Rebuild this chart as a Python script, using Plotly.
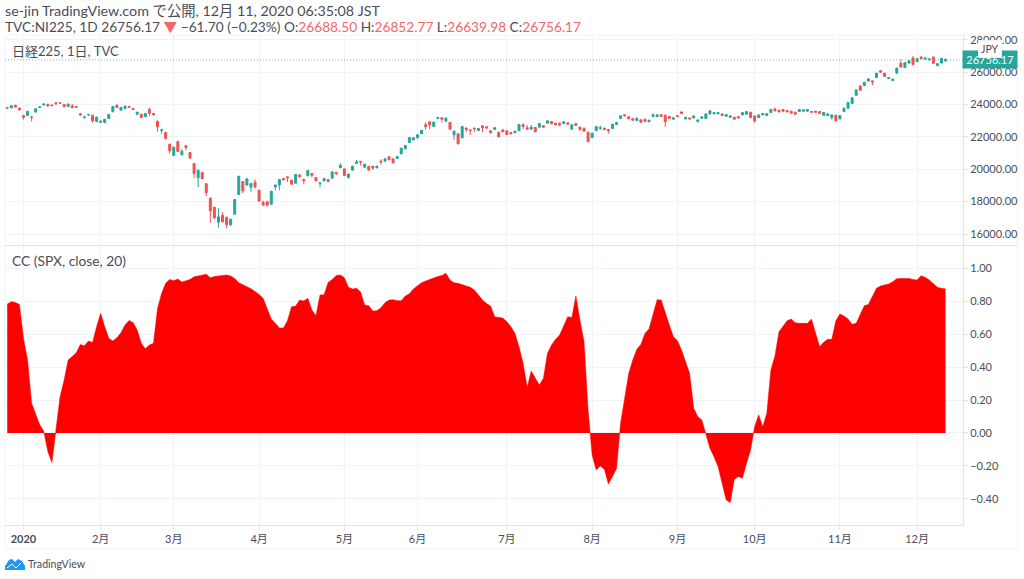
import plotly.graph_objects as go

# Nikkei 225 daily bars, Dec 2019 to Dec 2020
open_px = [23813, 23787, 23953, 23770,
    23320, 23320, 23217, 23530, 23813, 23970, 24000, 23967, 24107, 24100, 24000, 23870, 23910, 23870, 23430, 23190, 23360, 23340, 22950,
    22900, 22880, 23130, 23550, 23960, 23650, 23750, 23880, 23750, 23400, 23400, 23240, 23690, 23440, 22970, 22400, 22270, 21550,
    20850, 21710, 20890, 21450, 21030, 20350, 19470, 19800, 19100, 18210, 17650, 16730, 17160, 17030, 16570, 17220, 18440, 19240, 19020, 18890, 19200,
    18700, 17960, 18000, 17840, 18910, 19030, 19430, 19530, 19320, 19140, 19650, 19360, 19590, 19740, 19490, 19130, 19280, 19360, 19450, 19810, 20090,
    20020, 19490, 19940, 20357, 20480, 20125, 20170, 20190, 20090, 20500, 20500, 20770, 20640, 20660, 20950, 21260, 21650, 21820,
    21940, 22190, 22740, 22930, 22640, 23130, 23180, 22970, 22890, 22125, 22190, 21940, 22540, 22430, 22540, 22390, 22680, 22620, 22370, 22460, 22290, 22430,
    22373, 22270, 22249, 22373, 22743, 22558, 22476, 22579, 22600, 22682, 22846, 22950, 22846, 22846, 22826, 22867, 22476, 22826, 22600, 22537, 22290,
    21960, 22393, 22520, 22537, 22455, 22517, 22764, 23135, 23361, 23238, 23114, 23011, 23052, 23093, 22929, 23258, 23258, 23361, 23320, 23258, 23093,
    23300, 23540, 23106, 23168, 23168, 22960, 23147, 23126, 23418, 23418, 23418, 23418, 23272, 23210, 23210, 23250, 23355, 23397, 23522,
    23293, 23189, 23355, 23314, 23500, 23730, 23646, 23688, 23626, 23584, 23522, 23563, 23584, 23584, 23563, 23584, 23563, 23334, 23314, 23189, 23334,
    23106, 23563, 23771, 24062, 24562, 25144, 25165, 25456, 25456, 25664, 26080, 25934, 25602, 25477, 25934, 26538, 26288, 26558, 26870,
    26642, 26933, 26808, 26746, 26933, 26413, 26558, 26688.50]
high_px = [23830, 23930, 23967, 23807,
    23365, 23577, 23303, 23767, 23903, 24060, 24060, 24000, 24115, 24120, 24030, 24040, 24040, 23900, 23470, 23320, 23400, 23350, 23260,
    23000, 23100, 23400, 23880, 23990, 23830, 23900, 23900, 23780, 23540, 23420, 23450, 23800, 23480, 22990, 22500, 22320, 21560,
    21400, 21760, 21250, 21500, 21060, 20370, 19970, 19850, 19150, 18260, 17680, 17600, 17360, 17080, 16950, 18150, 19580, 19280, 19420, 19130, 19370,
    18730, 18060, 18050, 18660, 19070, 19390, 19450, 19540, 19340, 19690, 19680, 19420, 19930, 19780, 19510, 19200, 19450, 19380, 19860, 19840, 20370,
    20040, 19720, 20200, 20570, 20520, 20330, 20190, 20210, 20210, 20620, 20660, 20800, 20660, 20810, 21320, 21490, 21970, 21990,
    22160, 22420, 22900, 22960, 22930, 23220, 23200, 23190, 22900, 22380, 22210, 22660, 22580, 22450, 22570, 22530, 22710, 22660, 22400, 22600, 22310, 22500,
    22400, 22300, 22370, 22790, 22846, 22742, 22722, 22600, 22840, 22720, 23000, 22970, 22870, 22870, 22950, 22890, 22760, 22850, 22620, 22560, 22310,
    22250, 22660, 22700, 22560, 22480, 22800, 22900, 23320, 23400, 23270, 23140, 23170, 23080, 23110, 23050, 23464, 23380, 23390, 23400, 23290, 23190,
    23320, 23560, 23230, 23190, 23310, 23060, 23250, 23440, 23630, 23520, 23520, 23440, 23400, 23310, 23230, 23270, 23520, 23580, 23540,
    23320, 23380, 23460, 23460, 23710, 23760, 23670, 23710, 23650, 23610, 23540, 23710, 23690, 23710, 23590, 23610, 23590, 23520, 23440, 23380, 23360,
    23330, 23790, 24140, 24440, 24920, 25170, 25400, 25600, 25480, 25950, 26120, 25960, 25690, 25600, 26270, 26766, 26600, 26730, 27000,
    26850, 26960, 26890, 26830, 26960, 26560, 26870, 26852.77]
low_px = [23746, 23783, 23837, 23651,
    23073, 23300, 22951, 23520, 23780, 23950, 23850, 23880, 24000, 24060, 23850, 23860, 23780, 23790, 23320, 23115, 23280, 22890, 22900,
    22850, 22860, 23100, 23520, 23790, 23630, 23730, 23790, 23670, 23330, 23150, 23220, 23300, 23300, 22330, 22180, 21850, 20970,
    20830, 21080, 20850, 21170, 20630, 19470, 18900, 19380, 18330, 16690, 16900, 16400, 16740, 16360, 16490, 17210, 18430, 18500, 19010, 18610, 18800,
    18000, 17720, 17700, 17830, 18700, 18700, 19300, 19220, 19050, 19130, 19500, 19070, 19580, 19500, 19260, 18880, 19270, 19180, 19440, 19620, 20080,
    19590, 19420, 19920, 20340, 20230, 20100, 19890, 19950, 20050, 20300, 20480, 20560, 20370, 20640, 20930, 21230, 21620, 21780,
    21900, 22180, 22440, 22480, 22620, 23110, 22880, 22950, 22440, 21820, 21530, 21910, 22290, 22130, 22290, 22370, 22270, 22470, 22220, 22430, 21980, 22300,
    22120, 22160, 22230, 22360, 22475, 22450, 22450, 22290, 22580, 22580, 22830, 22780, 22720, 22640, 22810, 22760, 22440, 22680, 22410, 22330, 21650,
    21940, 22380, 22420, 22400, 22210, 22500, 22750, 23110, 23280, 23090, 23010, 22990, 22880, 22930, 22910, 23240, 23240, 23230, 22620, 23110, 23070,
    23240, 23420, 23090, 23090, 23150, 22880, 23130, 23110, 23400, 23400, 23400, 23290, 23250, 23190, 23060, 23150, 23340, 23380, 23170,
    22870, 23170, 23340, 23300, 23480, 23590, 23520, 23560, 23520, 23440, 23380, 23540, 23560, 23560, 23500, 23500, 23440, 23310, 23290, 23060, 22950,
    23090, 23540, 23750, 24040, 24540, 24850, 25140, 25430, 25206, 25640, 25970, 25700, 25580, 25450, 25910, 26280, 26260, 26530, 26430,
    26620, 26800, 26790, 26720, 26500, 26350, 26540, 26639.98]
close_px = [23782, 23924, 23837, 23656,
    23204, 23575, 23204, 23739, 23850, 24025, 23916, 23933, 24041, 24083, 23864, 24031, 23795, 23827, 23343, 23215, 23379, 22977, 23205,
    22972, 23084, 23380, 23873, 23810, 23815, 23900, 23830, 23690, 23525, 23195, 23445, 23450, 23380, 22620, 22426, 21900, 21140,
    21360, 21100, 21110, 21340, 20700, 19730, 19940, 19420, 18560, 17430, 17010, 17060, 16750, 16580, 16910, 18130, 19570, 18660, 19410, 19120, 18910,
    18030, 17800, 17780, 18640, 19020, 19360, 19345, 19470, 19080, 19670, 19530, 19300, 19920, 19630, 19280, 19160, 19430, 19240, 19840, 19730, 20230,
    19610, 19700, 20190, 20460, 20440, 20310, 19960, 20070, 20190, 20440, 20640, 20580, 20400, 20790, 21300, 21470, 21960, 21940,
    22125, 22400, 22640, 22740, 22910, 23200, 23090, 23155, 22470, 22350, 21570, 22640, 22455, 22390, 22500, 22520, 22560, 22560, 22250, 22560, 22000, 22310,
    22146, 22187, 22352, 22764, 22640, 22476, 22600, 22311, 22826, 22600, 22990, 22805, 22743, 22743, 22929, 22785, 22743, 22702, 22434, 22352, 21713,
    22228, 22640, 22560, 22455, 22373, 22785, 22888, 23300, 23300, 23114, 23032, 23155, 22908, 22949, 23032, 23361, 23361, 23258, 22929, 23135, 23176,
    23260, 23440, 23210, 23106, 23293, 23043, 23230, 23418, 23605, 23500, 23500, 23314, 23376, 23293, 23085, 23168, 23500, 23563, 23189,
    22981, 23355, 23438, 23438, 23688, 23605, 23542, 23584, 23542, 23459, 23397, 23688, 23667, 23688, 23522, 23522, 23459, 23500, 23418, 23355, 22981,
    23314, 23771, 24125, 24416, 24894, 24874, 25373, 25581, 25394, 25934, 25997, 25726, 25664, 25560, 26246, 26309, 26579, 26704, 26454,
    26829, 26829, 26870, 26808, 26538, 26517, 26850, 26756.17]

# CC (SPX, close, 20), one value per bar
cc = [0.783, 0.798, 0.793, 0.781,
    0.575, 0.443, 0.18, 0.11, 0.05, 0.01, -0.113, -0.18, 0.04, 0.22, 0.32, 0.443, 0.464, 0.488, 0.538, 0.53, 0.559, 0.55, 0.646,
    0.727, 0.646, 0.575, 0.559, 0.579, 0.609, 0.656, 0.684, 0.67, 0.626, 0.545, 0.512, 0.534, 0.545, 0.757, 0.848, 0.909, 0.933,
    0.925, 0.935, 0.917, 0.925, 0.933, 0.949, 0.953, 0.96, 0.964, 0.943, 0.951, 0.953, 0.957, 0.96, 0.953, 0.939, 0.913, 0.901, 0.889, 0.877, 0.86,
    0.842, 0.818, 0.757, 0.692, 0.666, 0.638, 0.638, 0.682, 0.767, 0.771, 0.808, 0.802, 0.818, 0.747, 0.713, 0.838, 0.84, 0.915, 0.933, 0.957, 0.96,
    0.943, 0.885, 0.875, 0.879, 0.856, 0.777, 0.773, 0.741, 0.743, 0.761, 0.791, 0.808, 0.81, 0.804, 0.804, 0.832, 0.846, 0.875,
    0.893, 0.913, 0.923, 0.933, 0.943, 0.951, 0.957, 0.97, 0.929, 0.913, 0.909, 0.901, 0.897, 0.885, 0.868, 0.838, 0.808, 0.787, 0.771, 0.706, 0.704, 0.698,
    0.676, 0.646, 0.605, 0.524, 0.423, 0.277, 0.377, 0.336, 0.291, 0.332, 0.484, 0.534, 0.569, 0.595, 0.65, 0.706, 0.702, 0.832, 0.686, 0.555, 0.14,
    -0.134, -0.225, -0.2, -0.22, -0.31, -0.265, -0.215, 0.059, 0.22, 0.362, 0.443, 0.508, 0.538, 0.605, 0.632, 0.717, 0.81, 0.808, 0.727, 0.656, 0.585,
    0.561, 0.504, 0.433, 0.362, 0.15, 0.099, 0.079, -0.006, -0.093, -0.144, -0.204, -0.306, -0.407, -0.423, -0.281, -0.265, -0.275, -0.184, -0.103,
    0.038, 0.111, 0.038, 0.119, 0.383, 0.468, 0.615, 0.65, 0.682, 0.692, 0.67, 0.666, 0.666, 0.666, 0.692, 0.605, 0.524, 0.551, 0.569, 0.569, 0.682,
    0.723, 0.711, 0.692, 0.66, 0.666, 0.721, 0.773, 0.781, 0.828, 0.879, 0.893, 0.899, 0.905, 0.919, 0.937, 0.939, 0.939, 0.939, 0.933,
    0.929, 0.955, 0.945, 0.929, 0.905, 0.885, 0.879, 0.875]

# first bar of each month
month_bars = [4, 23, 41, 62, 83, 101, 123, 144, 165, 184, 205, 224]
month_labels = ["<b>2020</b>", "2月", "3月", "4月", "5月", "6月", "7月", "8月", "9月", "10月", "11月", "12月"]
price_ticks = [16000, 18000, 20000, 22000, 24000, 26000, 28000]
cc_ticks = [-0.4, -0.2, 0, 0.2, 0.4, 0.6, 0.8, 1.0]
last_price = 26756.17

bars = list(range(len(close_px)))

GREEN = "#26a69a"
RED = "#ef5350"
GRID = "#f0f3fa"
BORDER = "#e0e3eb"
TEXT = "#4a4d57"
FONT = "Lato, 'Noto Sans CJK JP', sans-serif"

# plot area in pixels
LEFT, RIGHT, TOP, BOTTOM = 5, 963.5, 35, 525


def px(x):
    return (x - LEFT) / (RIGHT - LEFT)


def py(y):
    return (BOTTOM - y) / (BOTTOM - TOP)


fig = go.Figure()
fig.add_trace(go.Candlestick(
    x=bars, open=open_px, high=high_px, low=low_px, close=close_px,
    increasing=dict(line=dict(color=GREEN, width=1), fillcolor=GREEN),
    decreasing=dict(line=dict(color=RED, width=1), fillcolor=RED),
    whiskerwidth=0, xaxis="x", yaxis="y", showlegend=False,
))
fig.add_trace(go.Scatter(
    x=bars, y=cc, mode="lines", fill="tozeroy", fillcolor="#ff0000",
    line=dict(color="#ff0000", width=0.5), xaxis="x2", yaxis="y2", showlegend=False,
))


def label(text, x, y, size=13.8, color=TEXT):
    # annotations pad their text by about 2px, so start 2px further left
    fig.add_annotation(text=text, xref="paper", yref="paper", x=px(x - 2), y=py(y),
                       xanchor="left", yanchor="middle", showarrow=False,
                       font=dict(family=FONT, size=size, color=color))


def red(s):
    return f"<span style='color:#f0686a'>{s}</span>"


label("se-jin TradingView.com で公開, 12月 11, 2020 06:35:08 JST", 5, 10.5, size=14.3)
label("TVC:NI225, 1D 26756.17 " + red("▼") + " −61.70 (−0.23%) O:" + red("26688.50")
      + " H:" + red("26852.77") + " L:" + red("26639.98") + " C:" + red("26756.17"), 5, 26, size=13.7)
label("日経225, 1日, TVC", 12, 51, size=13)
label("CC (SPX, close, 20)", 12, 260)
label("TradingView", 28, 564, size=10.6)

# last price tag and currency badge
fig.add_annotation(text="26756.17", xref="paper", yref="y", x=px(991), y=last_price, xanchor="center",
                   yanchor="middle", showarrow=False, bgcolor=GREEN, borderpad=2, width=50,
                   font=dict(family=FONT, size=11, color="white"))
fig.add_annotation(text="JPY", xref="paper", yref="paper", x=px(991), y=py(49), xanchor="center",
                   yanchor="middle", showarrow=False, bgcolor="white", bordercolor="#f0f1f5", borderwidth=1,
                   borderpad=2, font=dict(family=FONT, size=10.5, color=TEXT))

shapes = [
    dict(type="line", xref="x", yref="y", x0=-0.55, x1=235.3, y0=last_price, y1=last_price,
         line=dict(color="rgba(38,166,154,0.65)", width=1, dash="1px,2px")),
    # outer frame and pane separator
    dict(type="rect", xref="paper", yref="paper", x0=px(5), x1=px(1018), y0=py(35), y1=py(549),
         line=dict(color=GRID, width=1), layer="below"),
    dict(type="line", xref="paper", yref="paper", x0=px(5), x1=px(1018), y0=py(245.5), y1=py(245.5),
         line=dict(color=BORDER, width=1)),
]


def logo_path(points):
    return "M" + " L".join(f"{px(a):.5f},{py(b):.5f}" for a, b in points)


shapes.append(dict(type="path", xref="paper", yref="paper",
                   path=logo_path([(5, 570), (5, 566), (9, 560), (12, 559), (15, 562), (18, 559), (22, 561), (25, 566), (25, 570)]) + " Z",
                   fillcolor="#2196f3", line=dict(width=0)))
shapes.append(dict(type="path", xref="paper", yref="paper",
                   path=logo_path([(7, 568), (12, 564), (16, 568), (21, 563)]),
                   line=dict(color="white", width=1)))

axis_style = dict(showgrid=True, gridcolor=GRID, gridwidth=1, zeroline=False, showline=True, linecolor=BORDER,
                  ticks="outside", ticklen=4, tickcolor=BORDER, automargin=False,
                  tickfont=dict(family=FONT, size=11, color=TEXT))

fig.update_layout(
    width=1024, height=579,
    margin=dict(l=LEFT, r=1024 - RIGHT, t=TOP, b=579 - BOTTOM),
    paper_bgcolor="white", plot_bgcolor="white",
    showlegend=False, shapes=shapes,
    xaxis=dict(domain=[0, 1], range=[-0.55, 235.3], anchor="y", rangeslider=dict(visible=False),
               tickmode="array", tickvals=month_bars, ticktext=[""] * len(month_bars),
               showgrid=True, gridcolor=GRID, showline=False, ticks="", zeroline=False),
    xaxis2=dict(domain=[0, 1], range=[-0.55, 235.3], anchor="y2", matches="x",
                tickmode="array", tickvals=month_bars, ticktext=month_labels, **axis_style),
    yaxis=dict(domain=[py(245.5), 1], range=[15290, 28290], side="right", anchor="x",
               tickmode="array", tickvals=price_ticks, tickformat=".2f", **axis_style),
    yaxis2=dict(domain=[0, py(246)], range=[-0.559, 1.136], side="right", anchor="x2",
                tickmode="array", tickvals=cc_ticks, tickformat=".2f", **axis_style),
)

fig.write_html("out.html", config=dict(displayModeBar=False),
               post_script="document.body.style.margin='0';")
